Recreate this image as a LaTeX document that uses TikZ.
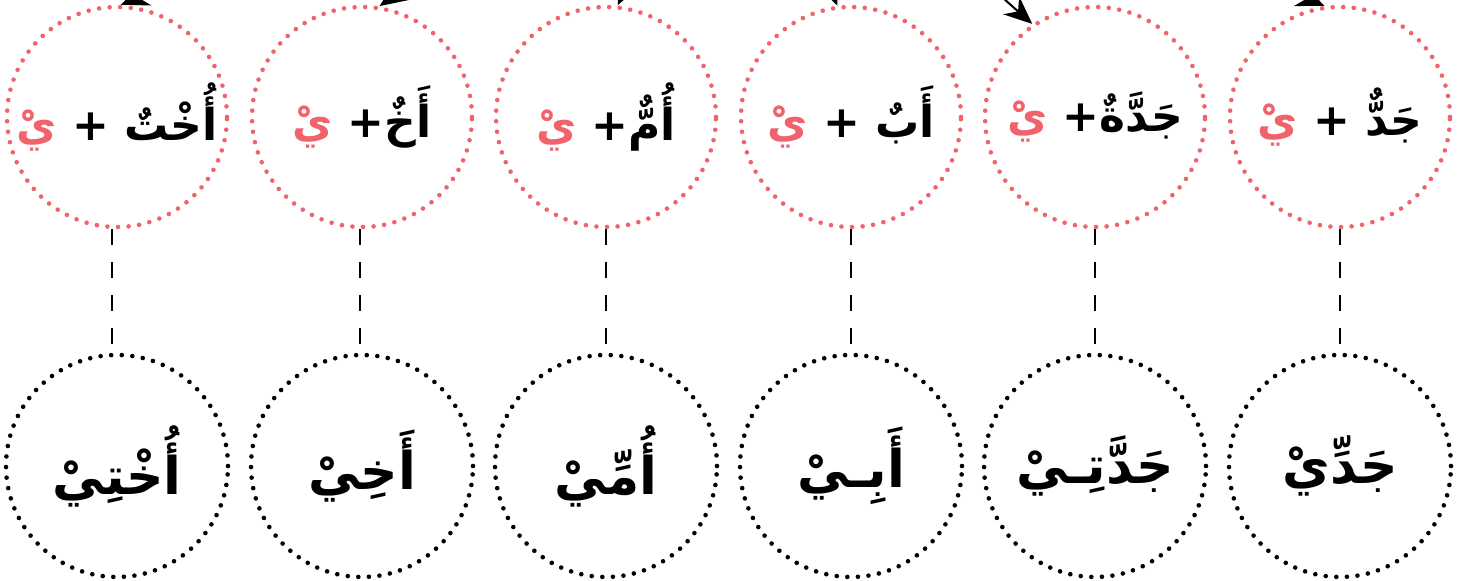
\documentclass[tikz,border=0pt]{standalone}
\usepackage{fontspec}
\usetikzlibrary{arrows.meta}
\TeXXeTstate=1
\newfontfamily\arabicfont[Script=Arabic]{DejaVu Sans}
\definecolor{ared}{RGB}{240,98,108}
\newcommand{\redya}{\textcolor{ared}{\beginR يْ\endR}}
\tikzset{
 dotring/.style={circle, line width=2.3pt, dash pattern=on 0pt off 5.3pt, line cap=round, inner sep=0pt, text=black},
 topc/.style={dotring, draw=ared, minimum size=110pt, font=\arabicfont\bfseries\fontsize{22}{26}\selectfont},
 botc/.style={dotring, draw=black, minimum size=111pt, font=\arabicfont\bfseries\fontsize{26}{32}\selectfont},
 link/.style={line width=1pt, dash pattern=on 8pt off 8.5pt},
 arr/.style={line width=1pt, -{Stealth[length=14pt,width=12pt]}},
}
\begin{document}
\begin{tikzpicture}[x=0.5pt,y=0.5pt]
\useasboundingbox (0,0) rectangle (1467,-581);
% top row
\node[topc] (t1) at (117,-117) {\redya{} + \beginR أُخْتٌ\endR};
\node[topc] (t2) at (362,-117) {\redya{} +\beginR أَخٌ\endR};
\node[topc] (t3) at (606,-117) {\redya{} +\beginR أُمٌّ\endR};
\node[topc] (t4) at (851,-117) {\redya{} + \beginR أَبٌ\endR};
\node[topc] (t5) at (1095,-117) {\redya{} +\beginR جَدَّةٌ\endR};
\node[topc] (t6) at (1340,-117) {\redya{} + \beginR جَدٌّ\endR};
% bottom row
\node[botc] (b1) at (117,-466) {\beginR أُخْتِيْ\endR};
\node[botc] (b2) at (362,-466) {\beginR أَخِيْ\endR};
\node[botc] (b3) at (606,-466) {\beginR أُمِّيْ\endR};
\node[botc] (b4) at (851,-466) {\beginR أَبِـيْ\endR};
\node[botc] (b5) at (1095,-466) {\beginR جَدَّتِـيْ\endR};
\node[botc] (b6) at (1340,-466) {\beginR جَدِّيْ\endR};
% dashed links
\draw[link] ([xshift=-2.5pt]t1.south) -- ([xshift=-2.5pt]b1.north);
\draw[link] ([xshift=-1pt]t2.south) -- ([xshift=-1pt]b2.north);
\draw[link] (t3.south) -- (b3.north);
\draw[link] (t4.south) -- (b4.north);
\draw[link] (t5.south) -- (b5.north);
\draw[link] (t6.south) -- (b6.north);
% arrows from a parent above the visible area
\begin{scope}
\clip (0,0) rectangle (1467,-581);
\coordinate (src) at (733,241);
\draw[arr] (src) -- (t1.88);
\draw[arr] (src) -- (t2.81);
\draw[arr] (src) -- (t3.84);
\draw[arr] (src) -- (t4.97);
\draw[arr] (src) -- (t5.124);
\draw[arr] (src) -- (t6.98);
\end{scope}
\end{tikzpicture}
\end{document}
